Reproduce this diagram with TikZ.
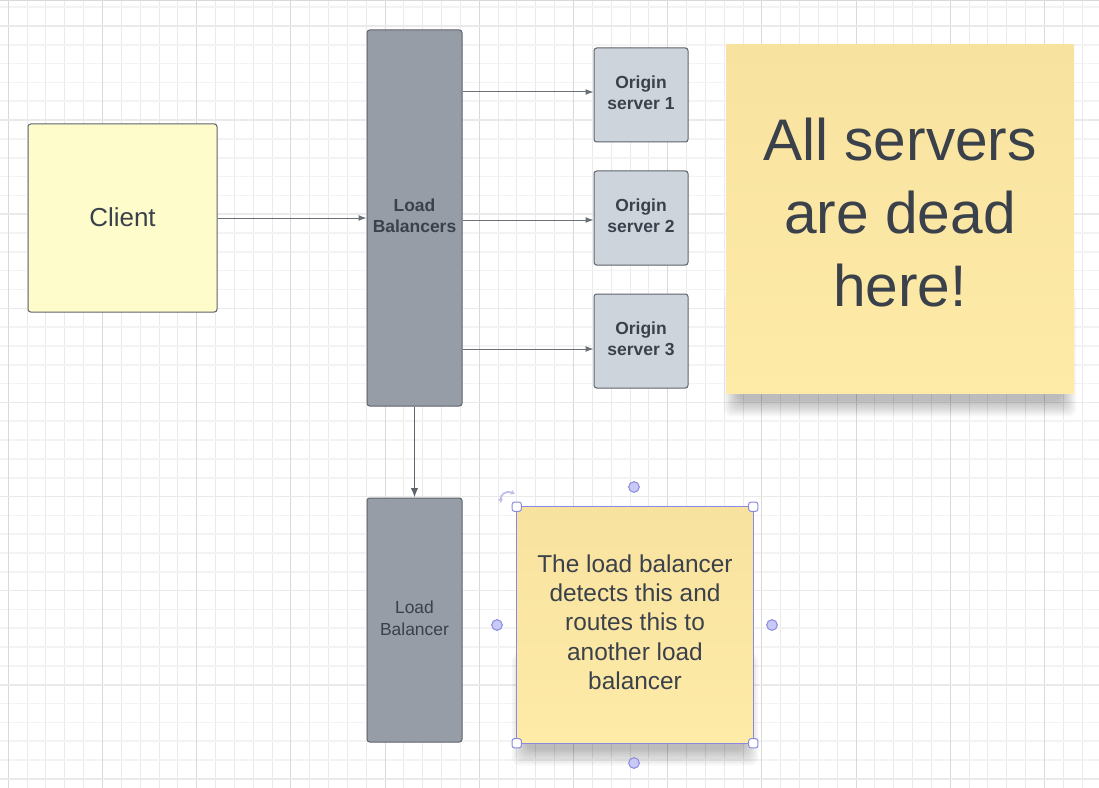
\documentclass[tikz,border=0pt]{standalone}
\usepackage{fontspec}
\setmainfont{Liberation Sans}
\usetikzlibrary{arrows.meta}
\definecolor{ink}{HTML}{3A414A}
\definecolor{gridminor}{HTML}{EAEAEA}
\definecolor{gridmajor}{HTML}{D9D9D9}
\definecolor{clientfill}{HTML}{FEFCCB}
\definecolor{lbfill}{HTML}{979DA7}
\definecolor{lbline}{HTML}{5E636B}
\definecolor{originfill}{HTML}{CED4DC}
\definecolor{stickytop}{HTML}{F8E2A0}
\definecolor{stickybot}{HTML}{FEEBA7}
\definecolor{selblue}{HTML}{6C6CD9}
\definecolor{handlefill}{HTML}{C9C9F6}
\definecolor{wire}{HTML}{6B6F76}
\newcommand\stack[2][0pt]{\raisebox{#1}{\begin{tabular}{@{}c@{}}#2\end{tabular}}}
\begin{document}
\begin{tikzpicture}[x=0.75pt,y=-0.75pt,
    every node/.style={text=ink,align=center,inner sep=0pt},
    shape box/.style={draw=lbline,line width=0.75pt,rounded corners=2pt},
    lbbox/.style={shape box,fill=lbfill,minimum width=71.25pt},
    origin/.style={shape box,fill=originfill,minimum width=70.5pt,minimum height=70.5pt,
      font=\fontsize{13.1}{15.8}\selectfont\bfseries},
    sticky/.style={top color=stickytop,bottom color=stickybot,draw=none},
    wire/.style={draw=wire,line width=0.75pt,-{Latex[length=6pt,width=4.5pt]}},
    handle/.style={draw=selblue!80,line width=0.75pt}]
    \useasboundingbox (0,0) rectangle (1099,788);
    \fill[white] (0,0) rectangle (1099,788);

    % grid
    \foreach \i in {0,...,58} {\draw[gridminor,line width=0.75pt] ({8.3+18.84*\i},0) -- ++(0,788);}
    \foreach \i in {0,...,42} {\draw[gridminor!60,line width=1.2pt] (0,{7.2+18.82*\i}) -- ++(1099,0);}
    \foreach \i in {0,...,11} {\draw[gridmajor,line width=0.75pt] ({8.3+94.2*\i},0) -- ++(0,788);}
    \foreach \i in {0,...,8} {\draw[gridminor,line width=1.2pt] (0,{26+94.1*\i}) -- ++(1099,0);}
    \draw[gridmajor,line width=1.5pt] (0,0.5) -- (1099,0.5);

    \node[shape box,fill=clientfill,minimum width=141.75pt,minimum height=141pt,
      font=\fontsize{19.5}{23}\selectfont] (client) at (122.5,218) {\raisebox{1.5pt}{Client}};
    \node[lbbox,minimum height=282pt,font=\fontsize{13.1}{15.8}\selectfont\bfseries]
      (lbs) at (414.5,218) {\stack[2.6pt]{Load\\Balancers}};
    \node[origin] (o1) at (641,95) {\stack[1.5pt]{Origin\\server 1}};
    \node[origin] (o2) at (641,218) {\stack[1.5pt]{Origin\\server 2}};
    \node[origin] (o3) at (641,341) {\stack[1.5pt]{Origin\\server 3}};
    \node[lbbox,minimum height=183pt,font=\fontsize{13.1}{16.5}\selectfont]
      (lb) at (414.5,620) {\stack[2.25pt]{Load\\Balancer}};

    \coordinate (in1) at ([yshift=2.25pt]o1.west);
    \coordinate (in2) at ([yshift=-1.5pt]o2.west);
    \coordinate (in3) at ([yshift=-6pt]o3.west);
    \draw[wire] (client.east) -- (lbs.west);
    \draw[wire] (lbs.east |- in1) -- (in1);
    \draw[wire] (lbs.east |- in2) -- (in2);
    \draw[wire] (lbs.east |- in3) -- (in3);
    \draw[draw=lbline,line width=1.1pt,-{Latex[length=7pt,width=5.5pt]}] (lbs.south) -- (lb.north);

    % sticky notes with soft shadows
    \foreach \k in {0,...,7}
      \fill[black,opacity=0.035,rounded corners=6pt] ({738-\k*2},{300-\k}) rectangle ({1062+\k*2},{401+\k*2.2});
    \node[sticky,minimum width=261pt,minimum height=261pt,
      font=\fontsize{44}{55}\selectfont] (dead) at (900,219)
      {\stack[4pt]{All servers\\are dead\\here!}};

    \foreach \k in {0,...,7}
      \fill[black,opacity=0.035,rounded corners=6pt] ({526-\k*2},{660-\k}) rectangle ({744+\k*2},{750+\k*2.2});
    \node[sticky,minimum width=177pt,minimum height=177pt,
      font=\fontsize{18.3}{22}\selectfont] (note) at (635,625)
      {\stack[2.25pt]{The load balancer\\detects this and\\routes this to\\another load\\balancer}};

    % selection handles
    \draw[handle] (note.north west) rectangle (note.south east);
    \foreach \c in {north west,north east,south west,south east}
      \draw[handle,fill=white,rounded corners=1.5pt] ([shift={(-3.4pt,-3.4pt)}]note.\c) rectangle ([shift={(3.4pt,3.4pt)}]note.\c);
    \foreach \p in {(634,487),(634,763),(497,625),(772,625)}
      \draw[handle,fill=handlefill] \p circle (4pt);
    \draw[draw=selblue!45,line width=1.3pt,{Latex[length=3pt,width=4pt]}-{Latex[length=3pt,width=4pt]}]
      (501,503) .. controls (500,495) and (506,490) .. (515,494);
  \end{tikzpicture}
\end{document}
